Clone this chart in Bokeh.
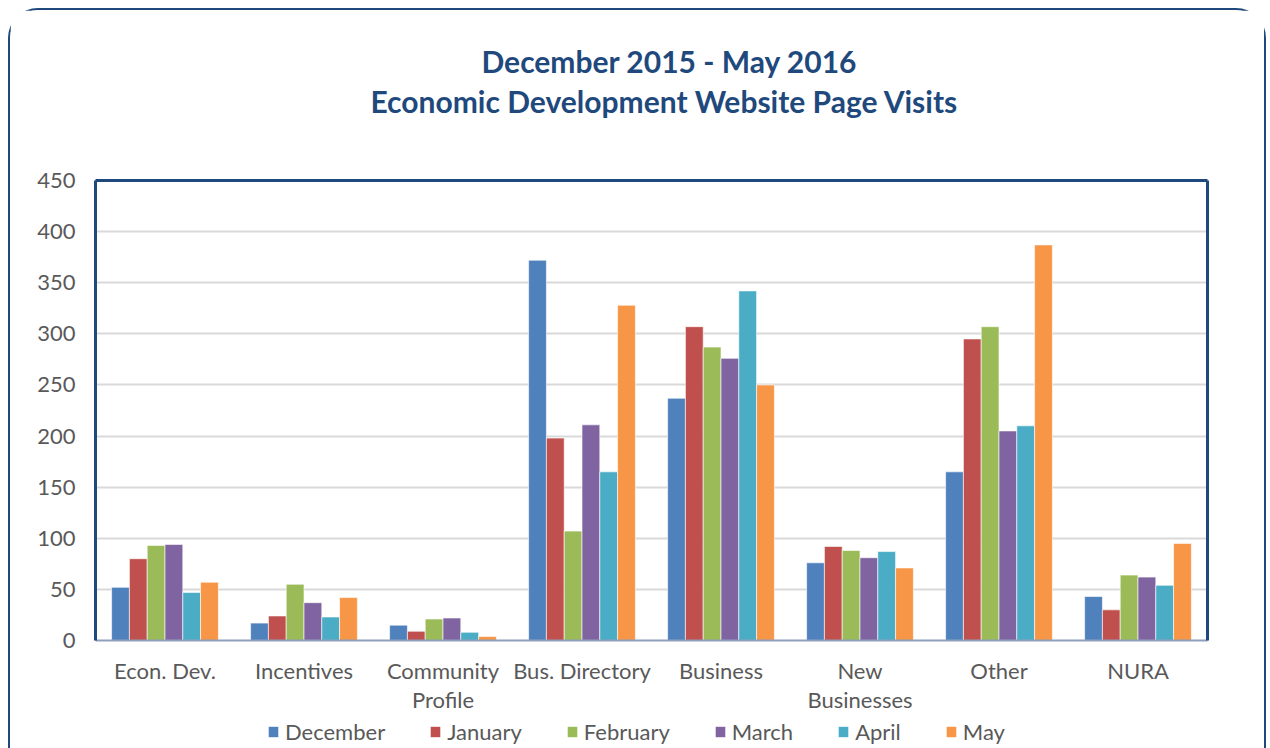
from bokeh.plotting import figure
from bokeh.layouts import column
from bokeh.models import (FactorRange, Range1d, Legend, LegendItem, Title, LinearAxis,
                          CategoricalAxis, FixedTicker, ColumnDataSource)
from bokeh.transform import dodge
from bokeh.embed import file_html
from bokeh.resources import INLINE

categories = ["Econ. Dev.", "Incentives", "Community\nProfile", "Bus. Directory",
              "Business", "New\nBusinesses", "Other", "NURA"]
months = ["December", "January", "February", "March", "April", "May"]
december = [52, 17, 15, 372, 237, 76, 165, 43]
january = [80, 24, 9, 198, 307, 92, 295, 30]
february = [93, 55, 21, 107, 287, 88, 307, 64]
march = [94, 37, 22, 211, 276, 81, 205, 62]
april = [47, 23, 8, 165, 342, 87, 210, 54]
may = [57, 42, 4, 328, 250, 71, 387, 95]
y_ticks = [0, 50, 100, 150, 200, 250, 300, 350, 400, 450]
title_lines = ["December 2015 - May 2016", "Economic Development Website Page Visits"]

series = [december, january, february, march, april, may]
colors = ["#4F81BD", "#C0504D", "#9BBB59", "#8064A2", "#4BACC6", "#F79646"]
FONT = "Lato"
NAVY = "#1F497D"
GRAY = "#595959"

data = {"cat": categories}
for m, s in zip(months, series):
    data[m] = s
source = ColumnDataSource(data)

p = figure(width=1254, height=708, x_range=FactorRange(factors=categories, range_padding=0),
           y_range=Range1d(0, 450), output_backend="svg", toolbar_location=None,
           min_border_left=85, min_border_right=57, min_border_top=170, min_border_bottom=78)
p.background_fill_color = "white"
p.border_fill_color = "white"
p.outline_line_color = None

bw = 0.128
for i, (m, c) in enumerate(zip(months, colors)):
    off = (i - 2.5) * bw
    p.vbar(x=dodge("cat", off, range=p.x_range), top=m, width=bw, source=source,
           fill_color=c, line_color="white", line_alpha=0.6, line_width=1)

# axes
xa = p.xaxis[0]
xa.axis_line_color = "#8EA0BB"
xa.axis_line_width = 2
xa.major_tick_line_color = None
xa.minor_tick_line_color = None
xa.major_tick_out = 0
xa.major_label_standoff = 16
xa.major_label_text_font = FONT
xa.major_label_text_font_size = "22px"
xa.major_label_text_color = GRAY
xa.major_label_text_line_height = 1.1

ya = p.yaxis[0]
ya.ticker = FixedTicker(ticks=y_ticks)
ya.axis_line_color = NAVY
ya.axis_line_width = 3
ya.major_tick_line_color = None
ya.minor_tick_line_color = None
ya.major_tick_out = 0
ya.major_label_standoff = 20
ya.major_label_text_font = FONT
ya.major_label_text_font_size = "22px"
ya.major_label_text_color = GRAY

ra = LinearAxis(ticker=FixedTicker(ticks=[]), axis_line_color=NAVY, axis_line_width=3,
                major_tick_line_color=None, minor_tick_line_color=None,
                major_tick_out=0, major_label_text_color=None)
p.add_layout(ra, "right")
# top frame edge; its (invisible) tick length keeps the titles clear of the plot
ta = CategoricalAxis(axis_line_color=NAVY, axis_line_width=3,
                     major_tick_line_color=None, minor_tick_line_color=None,
                     major_tick_out=60, major_tick_in=0,
                     major_label_text_color=None, major_label_text_font_size="1px")
p.add_layout(ta, "above")

p.xgrid.grid_line_color = None
p.ygrid.ticker = FixedTicker(ticks=y_ticks)
p.ygrid.grid_line_color = "#D9D9D9"
p.ygrid.grid_line_width = 2

# titles (line closest to plot added first)
t2 = Title(text=title_lines[1], align="left", offset=275, standoff=4, text_font=FONT,
           text_font_size="30px", text_font_style="bold", text_color=NAVY)
t1 = Title(text=title_lines[0], align="left", offset=386, standoff=0, text_font=FONT,
           text_font_size="30px", text_font_style="bold", text_color=NAVY)
p.add_layout(t2, "above")
p.add_layout(t1, "above")

# legend strip: zero-height bars below its y range, so only the legend shows
lf = figure(width=1254, height=30, output_backend="svg", toolbar_location=None,
            x_axis_location=None, y_axis_location=None, min_border=0,
            x_range=p.x_range, y_range=Range1d(4000, 5000))
lf.outline_line_color = None
lf.grid.grid_line_color = None
lf.background_fill_color = "white"
lf.border_fill_color = "white"
items = []
for i, (m, c) in enumerate(zip(months, colors)):
    off = (i - 2.5) * bw
    r = lf.vbar(x=dodge("cat", off, range=p.x_range), top=m, bottom=m, width=bw,
                source=source, fill_color=c, line_color=None)
    items.append(LegendItem(label=m, renderers=[r]))
legend = Legend(items=items, orientation="horizontal", location=(172, 3), glyph_width=12,
                glyph_height=13, label_standoff=6, spacing=44, padding=0, margin=0,
                border_line_color=None, background_fill_alpha=0, label_text_font=FONT,
                label_text_font_size="22px", label_text_color=GRAY)
lf.add_layout(legend, "center")

layout = column(p, lf, spacing=0, margin=(8, 0, 0, 8),
                styles={"border": "2px solid " + NAVY, "border-bottom": "none",
                        "border-radius": "30px 30px 0 0", "box-sizing": "content-box",
                        "background": "white"})

open("out.html", "w").write(file_html(layout, INLINE))
